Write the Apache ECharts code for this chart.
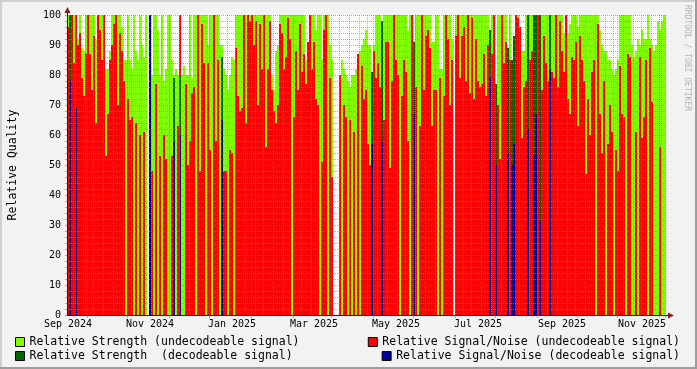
<!DOCTYPE html>
<html><head><meta charset="utf-8">
<script src="https://cdn.jsdelivr.net/npm/echarts@6/dist/echarts.min.js"></script>
<style>html,body{margin:0;padding:0;background:#f2f2f2}#c{width:697px;height:369px}</style>
</head><body><div id="c"></div>
<script>
// Relative Strength (undecodeable signal), one value per 2-pixel time slot
const strengthUndecodeable = [
100,100,100,100,100,92,100,89,88,100,
100,100,100,100,92,100,100,100,100,82,
82,88,100,100,100,100,100,96,85,85,
100,85,82,100,88,85,100,90,86,100,
null,0,80,100,100,95,80,100,78,82,
100,100,85,80,82,80,80,80,83,80,
80,100,79,100,100,100,100,100,100,100,
90,100,100,100,100,100,90,90,82,80,
75,80,86,85,100,100,100,100,100,100,
100,100,100,100,100,100,100,100,100,100,
100,100,80,75,88,90,100,100,100,100,
100,100,100,100,100,100,100,100,100,85,
84,100,100,100,95,100,100,85,100,100,
100,90,85,null,null,null,80,85,82,80,
78,76,80,80,82,85,88,90,92,95,
90,90,0,90,100,100,100,0,100,100,
100,100,100,95,100,100,100,100,100,100,
95,100,100,0,100,100,100,100,100,100,
100,100,91,91,100,100,82,82,100,100,
100,100,92,null,100,100,100,100,100,100,
100,100,100,100,100,100,100,100,100,100,
100,0,100,100,0,100,100,100,100,100,
0,100,0,0,100,100,88,88,88,100,
0,100,100,0,0,100,0,100,100,100,
100,0,100,100,100,100,100,100,94,94,
94,97,100,100,100,96,100,100,100,100,
100,100,100,100,100,100,95,90,88,88,
85,85,82,80,82,85,100,100,100,100,
100,100,90,86,88,92,90,95,92,92,
100,92,90,88,90,98,95,98,100
];
// Relative Signal/Noise (undecodeable signal)
const snrUndecodeable = [
96,0,100,84,100,90,94,79,73,87,
100,87,75,93,64,100,95,85,100,53,
67,85,90,97,100,70,94,88,78,0,
72,65,66,0,64,0,60,0,61,0,
null,0,48,0,77,0,53,0,60,52,
0,0,53,0,0,63,100,0,0,77,
50,58,74,76,0,100,48,97,84,0,
84,55,0,100,58,85,0,0,48,48,
0,55,54,0,89,73,68,69,100,64,
100,98,100,90,98,70,97,82,100,56,
82,98,75,68,64,70,97,94,82,86,
99,92,0,66,88,75,97,81,87,77,
91,100,82,91,72,70,0,51,95,100,
0,79,46,null,null,null,80,0,70,66,
0,65,0,61,0,87,0,83,72,75,
57,50,0,88,79,84,76,0,65,91,
91,49,78,100,85,80,0,73,85,81,
58,0,100,0,76,0,63,100,75,93,
95,89,63,75,75,0,79,0,73,100,
92,70,85,null,93,100,79,93,96,78,
100,74,99,72,92,78,76,77,87,73,
90,0,87,100,0,70,52,100,84,91,
0,85,0,0,100,99,96,59,76,78,
0,85,88,0,0,100,0,75,93,84,
78,0,81,79,100,76,98,88,81,100,
72,67,86,85,91,63,93,85,78,47,
72,60,81,85,0,97,67,54,78,0,
57,70,61,0,55,48,83,67,66,0,
87,86,0,0,61,0,86,59,66,85,
0,89,71,0,0,0,56,0,0
];
// decodeable-signal slots
const decodeableSlots      = [1,4,41,53,56,77,152,157,173,211,214,220,222,223,230,233,234,236,241];
const strengthDecodeable   = [100,69,100,79,80,86,81,98,91,95,77,89,85,93,100,100,100,100,100];
const snrDecodeable        = [78,69,100,58,60,65,57,58,67,79,50,54,50,57,62,53,67,31,82];
// x-axis labels and their slots
const tickLabels = ['Sep 2024','Nov 2024','Jan 2025','Mar 2025','May 2025','Jul 2025','Sep 2025','Nov 2025'];
const tickSlots  = [0,41,82,123,164,205,247,287];
// major vertical grid (mid-month) slots
const majorGridSlots = [10,30,51,71,92,113,132,153,173,194,214,235,255,275,296];

const N = strengthUndecodeable.length;
const cats = Array.from({length: N}, (_, i) => String(i));
const dStr = new Array(N).fill(null), dSnr = new Array(N).fill(null);
decodeableSlots.forEach((s, k) => { dStr[s] = strengthDecodeable[k]; dSnr[s] = snrDecodeable[k]; });
const minorSet = new Set();
for (let k = 0; k < 80; k++) { const c = Math.round(-0.75 + 4.725 * k); if (c > 0 && c < N) minorSet.add(c); }
const majorSet = new Set(majorGridSlots);
const tickSet = new Set(tickSlots);

const FONT = "'DejaVu Sans Mono', monospace";
const GL = 67, GT = 15, GW = 598, GH = 300;
const GRID = 'rgba(143,143,143,0.75)', MGRID = 'rgba(222,79,79,0.6)';
const ARROW = '#801f1f', AXIS = '#1f1f1f';

const chart = echarts.init(document.getElementById('c'), null, {renderer: 'canvas'});
const barBase = {type: 'bar', barGap: '-100%', barCategoryGap: '0%', z: 2, silent: true, animation: false};
const legendBase = {itemWidth: 9, itemHeight: 9, icon: 'rect', padding: 0, itemGap: 0, selectedMode: false,
  itemStyle: {borderColor: '#000', borderWidth: 1},
  textStyle: {fontFamily: FONT, fontSize: 11.5, color: '#000'}};
const names = ['Relative Strength (undecodeable signal)', 'Relative Signal/Noise (undecodeable signal)',
  'Relative Strength  (decodeable signal)', 'Relative Signal/Noise (decodeable signal)'];

chart.setOption({
  animation: false,
  backgroundColor: '#f2f2f2',
  grid: {left: GL, top: GT, width: GW, height: GH, show: true, backgroundColor: '#fff', borderWidth: 0,
    containLabel: false, outerBoundsMode: 'none'},
  xAxis: [{
    type: 'category', data: cats, boundaryGap: true, z: 5,
    axisLine: {show: true, lineStyle: {color: AXIS, width: 1}},
    axisTick: {show: true, length: 3, interval: (i) => majorSet.has(i), lineStyle: {color: MGRID}},
    axisLabel: {show: true, interval: (i) => tickSet.has(i), formatter: (v, i) => tickLabels[tickSlots.indexOf(Number(v))] || '',
      fontFamily: FONT, fontSize: 10, color: '#000', margin: 4},
    splitLine: {show: true, interval: (i) => majorSet.has(i), lineStyle: {color: MGRID, type: [1, 1], width: 1}}
  }, {
    type: 'category', data: cats, boundaryGap: true, z: 4, position: 'bottom',
    axisLine: {show: false}, axisTick: {show: false}, axisLabel: {show: false},
    splitLine: {show: true, interval: (i) => minorSet.has(i) && !majorSet.has(i), lineStyle: {color: GRID, type: [1, 1], width: 1}}
  }],
  yAxis: {
    type: 'value', min: 0, max: 100, interval: 10, z: 5,
    name: 'Relative Quality', nameLocation: 'middle', nameGap: 48, nameRotate: 90,
    nameTextStyle: {fontFamily: FONT, fontSize: 11.5, color: '#000'},
    axisLine: {show: true, lineStyle: {color: AXIS, width: 1}},
    axisTick: {show: true, length: 2, lineStyle: {color: MGRID}},
    minorTick: {show: true, splitNumber: 5, length: 2, lineStyle: {color: GRID}},
    axisLabel: {fontFamily: FONT, fontSize: 10, color: '#000', margin: 6},
    splitLine: {show: true, lineStyle: {color: MGRID, type: [1, 1], width: 1}},
    minorSplitLine: {show: true, lineStyle: {color: GRID, type: [1, 1], width: 1}}
  },
  legend: [
    Object.assign({}, legendBase, {data: [names[0]], left: 15, top: 336}),
    Object.assign({}, legendBase, {data: [names[2]], left: 15, top: 350}),
    Object.assign({}, legendBase, {data: [names[1]], right: 17, top: 336}),
    Object.assign({}, legendBase, {data: [names[3]], right: 17, top: 350})
  ],
  series: [
    Object.assign({}, barBase, {name: names[0], data: strengthUndecodeable, itemStyle: {color: '#80ff00'}}),
    Object.assign({}, barBase, {name: names[1], data: snrUndecodeable, itemStyle: {color: '#ff0000'}}),
    Object.assign({}, barBase, {name: names[2], data: dStr, itemStyle: {color: '#006600'}}),
    Object.assign({}, barBase, {name: names[3], data: dSnr, itemStyle: {color: '#000099'}})
  ],
  graphic: [
    {type: 'rect', shape: {x: 0, y: 0, width: 697, height: 2}, style: {fill: '#cfcfcf'}, silent: true},
    {type: 'rect', shape: {x: 0, y: 0, width: 2, height: 369}, style: {fill: '#cfcfcf'}, silent: true},
    {type: 'rect', shape: {x: 0, y: 367, width: 697, height: 2}, style: {fill: '#9e9e9e'}, silent: true},
    {type: 'rect', shape: {x: 695, y: 0, width: 2, height: 369}, style: {fill: '#9e9e9e'}, silent: true},
    {type: 'line', shape: {x1: GL + 0.5, y1: GT, x2: GL + 0.5, y2: GT - 3}, style: {stroke: AXIS, lineWidth: 1}, silent: true, z: 10},
    {type: 'polygon', shape: {points: [[GL + 0.5, GT - 8], [GL - 2.5, GT - 2], [GL + 3.5, GT - 2]]}, style: {fill: ARROW}, silent: true, z: 10},
    {type: 'line', shape: {x1: GL + GW, y1: GT + GH + 0.5, x2: GL + GW + 3, y2: GT + GH + 0.5}, style: {stroke: AXIS, lineWidth: 1}, silent: true, z: 10},
    {type: 'polygon', shape: {points: [[GL + GW + 9, GT + GH + 0.5], [GL + GW + 3, GT + GH - 2.5], [GL + GW + 3, GT + GH + 3.5]]}, style: {fill: ARROW}, silent: true, z: 10},
    {type: 'text', x: 687, y: 5, rotation: -Math.PI / 2, silent: true,
      style: {text: 'RRDTOOL / TOBI OETIKER', fontFamily: FONT, fontSize: 8, fill: '#b4b4b4', align: 'left', verticalAlign: 'middle'}}
  ]
});
</script></body></html>
